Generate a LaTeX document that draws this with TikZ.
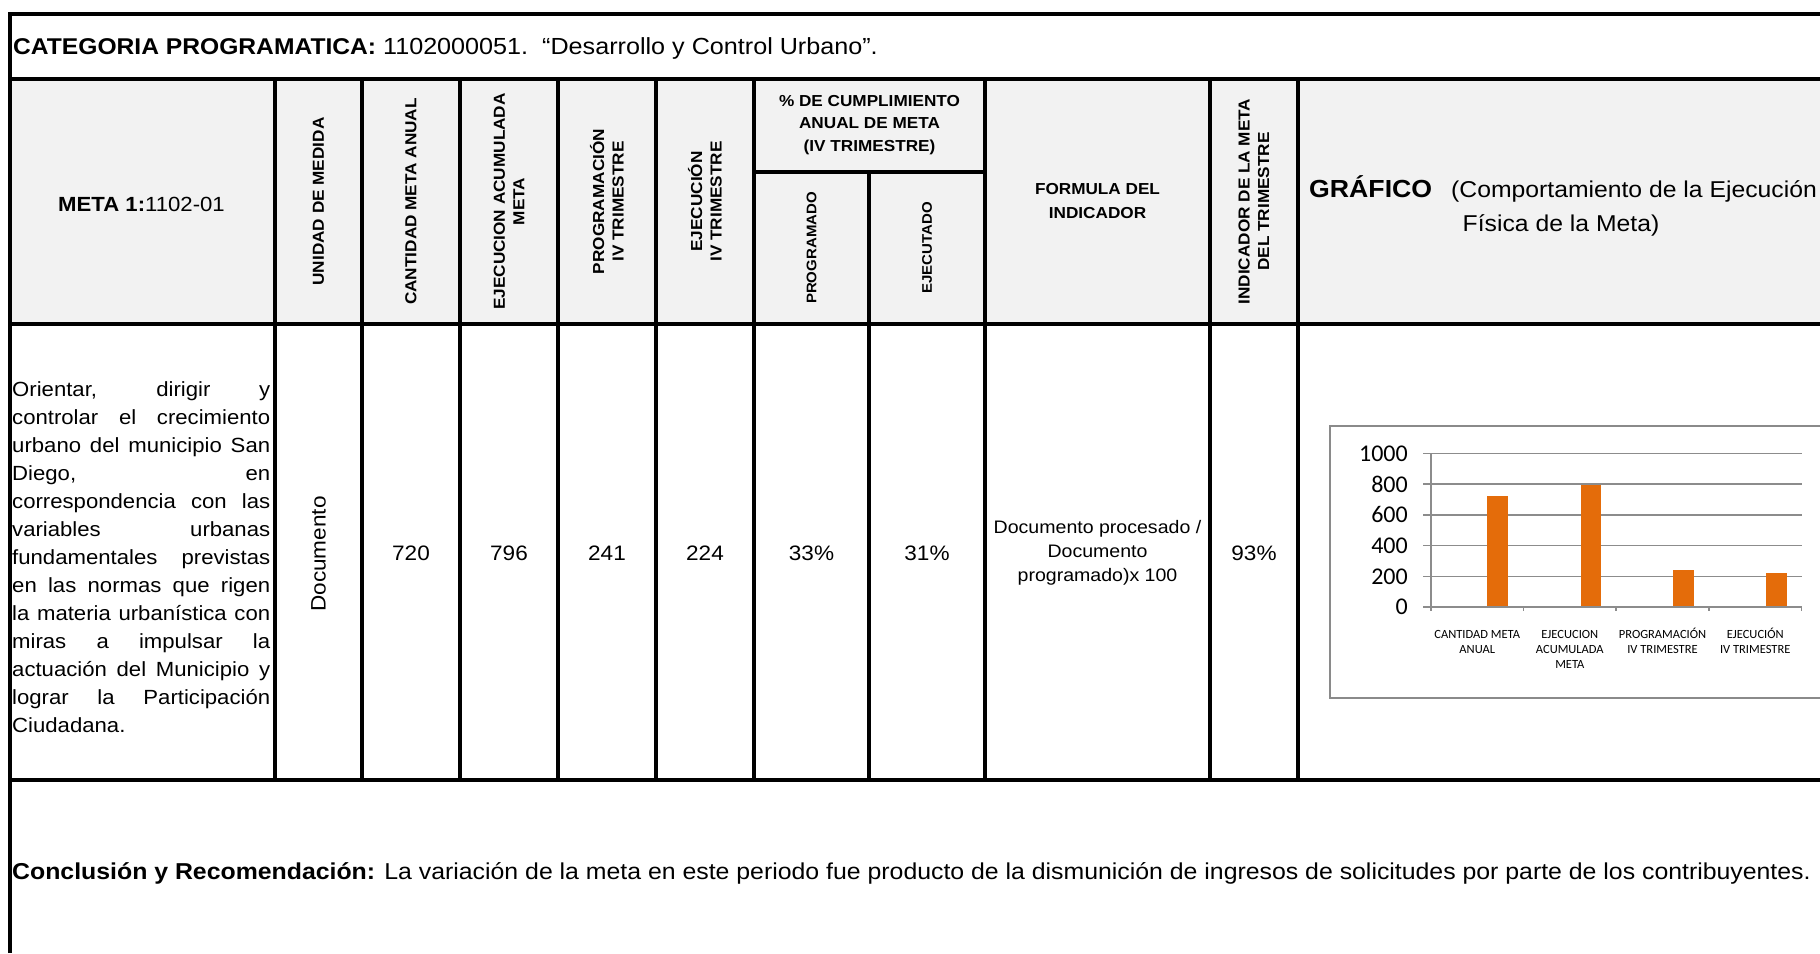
\documentclass[tikz,border=0pt]{standalone}
\usepackage{fontspec}
\setmainfont{Liberation Sans}[FakeStretch=1.08]
\newfontfamily\chartfont{Carlito}
\definecolor{hdrgray}{HTML}{F2F2F2}
\definecolor{barorange}{HTML}{E46C0A}
\definecolor{gridgray}{HTML}{8C8C8C}
\definecolor{boxgray}{HTML}{8A8A8A}
\begin{document}
\begin{tikzpicture}[x=1pt,y=-1pt,
  thickline/.style={line width=4.3pt},
  colline/.style={line width=3.2pt},
  hdr/.style={font=\bfseries\fontsize{15.9}{19.5}\selectfont, align=center, inner sep=0pt},
  vhdr/.style={hdr, rotate=90},
  small vhdr/.style={vhdr, font=\bfseries\fontsize{13.9}{17}\selectfont},
  val/.style={font=\fontsize{20.9}{25}\selectfont, inner sep=0pt},
  ylab/.style={anchor=east, inner sep=0pt, font=\chartfont\fontsize{24}{28}\selectfont},
  clab/.style={anchor=base, inner sep=0pt, font=\chartfont\fontsize{12.5}{15}\selectfont},
  gridln/.style={gridgray, line width=1.6pt}]
\useasboundingbox (0,0) rectangle (1820,953);

% header background
\fill[hdrgray] (10,79) rectangle (1820,324);

% chart box
\draw[boxgray, line width=2.2pt, fill=white] (1330,426) rectangle (1840,698);
\foreach \v in {200,400,600,800,1000}
  \draw[gridln] (1423,{607-\v*0.1535}) -- (1802,{607-\v*0.1535});
\fill[barorange] (1487.3,607) rectangle (1508,{607-720*0.1535});
\fill[barorange] (1580.7,607) rectangle (1601.4,{607-796*0.1535});
\fill[barorange] (1673.3,607) rectangle (1694,{607-241*0.1535});
\fill[barorange] (1766,607) rectangle (1786.7,{607-224*0.1535});
\draw[gridln] (1431,453) -- (1431,607);
\draw[gridln] (1423,607) -- (1802,607);
\foreach \x in {1431,1523.6,1616.2,1708.8,1801.5}
  \draw[gridln] (\x,607) -- (\x,611);
\foreach \v in {0,200,400,600,800,1000}
  \node[ylab] (y\v) at (1408,{607-\v*0.1535}) {\v};
\node[clab] (c1a) at (1477.2,638) {CANTIDAD META};
\node[clab] (c1b) at (1477.2,653) {ANUAL};
\node[clab] (c2a) at (1569.8,638) {EJECUCION};
\node[clab] (c2b) at (1569.8,653) {ACUMULADA};
\node[clab] (c2c) at (1569.8,668) {META};
\node[clab] (c3a) at (1662.5,638) {PROGRAMACIÓN};
\node[clab] (c3b) at (1662.5,653) {IV TRIMESTRE};
\node[clab] (c4a) at (1755.2,638) {EJECUCIÓN};
\node[clab] (c4b) at (1755.2,653) {IV TRIMESTRE};

% table lines
\draw[thickline] (10,953) -- (10,13.8) -- (1830,13.8);
\draw[thickline] (10,79) -- (1830,79);
\draw[thickline] (10,324) -- (1830,324);
\draw[thickline] (10,780) -- (1830,780);
\foreach \x in {275,362,460,558,656,754,985,1210,1298}
  \draw[colline] (\x,79) -- (\x,780);
\draw[colline] (869,172) -- (869,780);
\draw[colline] (754,172) -- (985,172);

% title
\node[anchor=base west, inner sep=0pt, font=\fontsize{23.3}{26}\selectfont] (cat) at (13,54.5)
  {{\fontsize{22.8}{26}\selectfont\bfseries CATEGORIA PROGRAMATICA:} 1102000051.\ \ “Desarrollo y Control Urbano”.};

% header row
\node[anchor=base, inner sep=0pt, font=\fontsize{20.5}{24}\selectfont] (meta) at (141.5,211) {\textbf{META 1:}1102-01};
\node[vhdr] (unidad) at (318.5,201.5) {UNIDAD DE MEDIDA};
\node[vhdr] (cantidad) at (411,201.5) {CANTIDAD META ANUAL};
\node[vhdr] (ejacum) at (509,201.5) {EJECUCION ACUMULADA\\META};
\node[vhdr] (prog) at (607,201.5) {PROGRAMACIÓN\\IV TRIMESTRE};
\node[vhdr] (ejec) at (705,201.5) {EJECUCIÓN\\IV TRIMESTRE};
\node[hdr, font=\bfseries\fontsize{15.9}{22.5}\selectfont] (cumpl) at (869.5,125) {\% DE CUMPLIMIENTO\\ANUAL DE META\\(IV TRIMESTRE)};
\node[small vhdr] (programado) at (811.5,248) {PROGRAMADO};
\node[small vhdr] (ejecutado) at (927,248) {EJECUTADO};
\node[hdr, font=\bfseries\fontsize{15.9}{24}\selectfont] (formula) at (1097.5,201) {FORMULA DEL\\INDICADOR};
\node[vhdr] (indicador) at (1254,201.5) {INDICADOR DE LA META\\DEL TRIMESTRE};
\node[anchor=base west, inner sep=0pt, font=\bfseries\fontsize{24.7}{28}\selectfont] (graf) at (1309,197) {GRÁFICO};
\node[anchor=base west, inner sep=0pt, font=\fontsize{22.9}{28}\selectfont] (graf2) at (1451,197) {(Comportamiento de la Ejecución};
\node[anchor=base, inner sep=0pt, font=\fontsize{22.9}{28}\selectfont] (graf3) at (1561,231) {Física de la Meta)};

% data row
\node[anchor=north west, inner sep=0pt, text width=258pt, align=justify, font=\fontsize{20.5}{28}\selectfont] (desc) at (12,381)
  {\hyphenpenalty=10000 Orientar, dirigir y\linebreak controlar el crecimiento\linebreak urbano del municipio San\linebreak Diego, en\linebreak correspondencia con las\linebreak variables urbanas\linebreak fundamentales previstas\linebreak en las normas que rigen\linebreak la materia urbanística con\linebreak miras a impulsar la\linebreak actuación del Municipio y\linebreak lograr la Participación\linebreak Ciudadana.};
\node[val, rotate=90] (doc) at (318.5,554) {Documento};
\node[val] (v1) at (411,553) {720};
\node[val] (v2) at (509,553) {796};
\node[val] (v3) at (607,553) {241};
\node[val] (v4) at (705,553) {224};
\node[val] (v5) at (811.5,553) {33\%};
\node[val] (v6) at (927,553) {31\%};
\node[align=center, inner sep=0pt, font=\fontsize{18.1}{24}\selectfont] (form) at (1097.5,553) {Documento procesado /\\Documento\\programado)x 100};
\node[val] (v7) at (1254,553) {93\%};

% conclusion
\node[anchor=base west, inner sep=0pt, font=\fontsize{23}{26}\selectfont] (concl) at (12,879)
  {\textbf{Conclusión y Recomendación:} La variación de la meta en este periodo fue producto de la dismunición de ingresos de solicitudes por parte de los contribuyentes.};
\end{tikzpicture}
\end{document}
